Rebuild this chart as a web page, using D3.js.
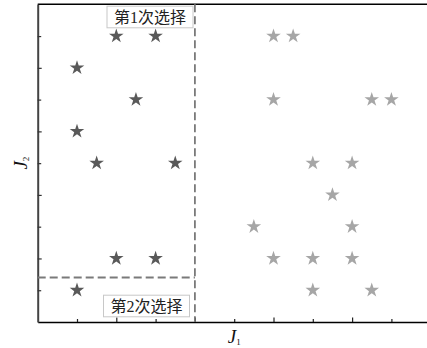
<!DOCTYPE html>
<html>
<head>
<meta charset="utf-8">
<script src="https://cdn.jsdelivr.net/npm/d3@7"></script>
<style>
  html, body { margin: 0; padding: 0; background: #fff; }
  svg { display: block; }
</style>
</head>
<body>
<svg id="chart" width="427" height="348"></svg>
<script>
// Solutions kept after the first selection (dark) and the remaining ones (light)
const keptX = [2, 3, 1, 2.5, 1, 1.5, 3.5, 2, 3, 1];
const keptY = [9, 9, 8, 7, 6, 5, 5, 2, 2, 1];
const restX = [6, 6.5, 6, 8.5, 9, 7, 8, 7.5, 5.5, 8, 6, 7, 8, 7, 8.5];
const restY = [9, 9, 7, 7, 7, 5, 5, 4, 3, 3, 2, 2, 2, 1, 1];
// Selection thresholds on J1 and J2
const cutJ1 = 4;
const cutJ2 = 1.4;
const selLabels = ["第1次选择", "第2次选择"];
const xTicks = [1, 2, 3, 4, 5, 6, 7, 8, 9];
const yTicks = [1, 2, 3, 4, 5, 6, 7, 8, 9];

const svg = d3.select("#chart");
const x = d3.scaleLinear().domain([0, 10]).range([37.7, 430.7]);
const y = d3.scaleLinear().domain([0, 10]).range([322, 4.3]);

const cjk = "'Liberation Serif', 'Noto Sans CJK SC', serif";

// Frame: top border and bottom axis in black, left axis in dark gray
svg.append("line").attr("x1", x(0)).attr("x2", x(10)).attr("y1", y(10)).attr("y2", y(10))
  .attr("stroke", "#000").attr("stroke-width", 1.6);

// Ticks, pointing inward, longer on even values
const xAxis = d3.axisTop(x).tickValues(xTicks).tickFormat("").tickSizeOuter(0)
  .tickSizeInner(0);
const gx = svg.append("g").attr("transform", `translate(0,${y(0)})`).call(xAxis);
gx.select(".domain").attr("stroke", "#000").attr("stroke-width", 1.6);
gx.selectAll(".tick line").attr("y2", d => d % 2 === 0 ? -4.5 : -3)
  .attr("stroke", "#222").attr("stroke-width", 1.2);

const yAxis = d3.axisRight(y).tickValues(yTicks).tickFormat("").tickSizeOuter(0)
  .tickSizeInner(0);
const gy = svg.append("g").attr("transform", `translate(${x(0)},0)`).call(yAxis);
gy.select(".domain").attr("stroke", "#444").attr("stroke-width", 2);
gy.selectAll(".tick line").attr("x2", d => d % 2 === 0 ? 4 : 3.5)
  .attr("stroke", "#333").attr("stroke-width", 1.2);

// Selection boundaries
svg.append("line")
  .attr("x1", x(cutJ1)).attr("x2", x(cutJ1)).attr("y1", y(10)).attr("y2", y(0))
  .attr("stroke", "#7a7a7a").attr("stroke-width", 1.8).attr("stroke-dasharray", "8,4");
svg.append("line")
  .attr("x1", x(0)).attr("x2", x(cutJ1)).attr("y1", y(cutJ2)).attr("y2", y(cutJ2))
  .attr("stroke", "#7a7a7a").attr("stroke-width", 1.8).attr("stroke-dasharray", "8,4");

// Star markers
const star = d3.symbol().type(d3.symbolStar).size(66);
svg.append("g").selectAll("path").data(d3.range(restX.length)).join("path")
  .attr("d", star)
  .attr("transform", i => `translate(${x(restX[i])},${y(restY[i])})`)
  .attr("fill", "#a6a6a6");
svg.append("g").selectAll("path").data(d3.range(keptX.length)).join("path")
  .attr("d", star)
  .attr("transform", i => `translate(${x(keptX[i])},${y(keptY[i])})`)
  .attr("fill", "#595959");

// Boxed selection labels
function boxLabel(text, cx, cy) {
  const g = svg.append("g");
  g.append("rect")
    .attr("x", cx - 43).attr("y", cy - 10.8).attr("width", 86).attr("height", 21.6)
    .attr("fill", "#fff").attr("stroke", "#c8c8c8").attr("stroke-width", 1);
  g.append("text").attr("x", cx).attr("y", cy).attr("dy", "0.36em")
    .attr("text-anchor", "middle").attr("font-family", cjk).attr("font-size", 16)
    .attr("fill", "#222").text(text);
}
boxLabel(selLabels[0], 150, 17);
boxLabel(selLabels[1], 146.5, 306);

// Axis titles J1 and J2
const serif = "'Liberation Serif', 'Times New Roman', serif";
const xt = svg.append("text").attr("x", x(5)).attr("y", 343)
  .attr("text-anchor", "middle").attr("font-family", serif).attr("font-size", 19)
  .attr("fill", "#111");
xt.append("tspan").attr("font-style", "italic").text("J");
xt.append("tspan").attr("font-size", 9).attr("dy", 2).text("1");

const yt = svg.append("text")
  .attr("transform", `translate(27,${(y(0) + y(10)) / 2}) rotate(-90)`)
  .attr("text-anchor", "middle").attr("font-family", serif).attr("font-size", 19)
  .attr("fill", "#111");
yt.append("tspan").attr("font-style", "italic").text("J");
yt.append("tspan").attr("font-size", 9).attr("dy", 2).text("2");
</script>
</body>
</html>
